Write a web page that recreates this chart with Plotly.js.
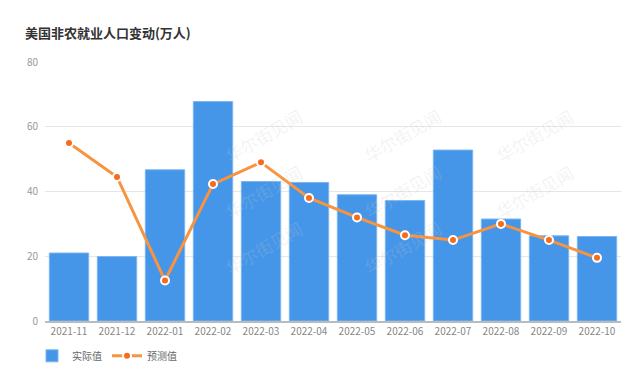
<!DOCTYPE html>
<html><head><meta charset="utf-8">
<script src="https://cdn.plot.ly/plotly-3.0.1.min.js"></script>
<style>html,body{margin:0;padding:0;background:#fff}#chart{width:640px;height:369px}</style>
</head><body><div id="chart"></div>
<script>
const categories = ["2021-11","2021-12","2022-01","2022-02","2022-03","2022-04","2022-05","2022-06","2022-07","2022-08","2022-09","2022-10"];
const actualValues = [21.0, 19.9, 46.7, 67.8, 43.1, 42.8, 39.0, 37.2, 52.8, 31.5, 26.3, 26.1];
const forecastValues = [55.0, 44.5, 12.5, 42.3, 49.0, 38.0, 32.0, 26.5, 25.0, 30.0, 25.0, 19.5];
const yTicks = [0, 20, 40, 60, 80];
const seriesNames = ["实际值", "预测值"];
const titleText = "美国非农就业人口变动(万人)";
const watermarkText = "华尔街见闻";

const font = '"Noto Sans CJK SC", "Noto Sans", sans-serif';
const traces = [
  {type:"bar", x:categories, y:actualValues, name:seriesNames[0],
   marker:{color:"#4596e8", line:{color:"#7ab6f0", width:1}}, width:0.82, hoverinfo:"y"},
  {type:"scatter", mode:"lines+markers", x:categories, y:forecastValues, name:seriesNames[1],
   line:{color:"#f8943f", width:3},
   marker:{color:"#f76b1c", size:8, line:{color:"#ffffff", width:2}}}
];
const wm = [];
const wmPos = [[0.3,0.85],[0.62,0.85],[0.93,0.85],[0.3,0.5],[0.62,0.5],[0.93,0.5],[0.3,0.15],[0.62,0.15]];
for (const p of wmPos) {
  wm.push({xref:"paper", yref:"paper", x:p[0], y:p[1], text:watermarkText, showarrow:false,
    textangle:-30, font:{family:font, size:17, color:"rgba(200,200,200,0.22)"}});
}
const layout = {
  width:640, height:369,
  margin:{l:45, r:19, t:62, b:48, autoexpand:false},
  paper_bgcolor:"#fff", plot_bgcolor:"#fff",
  font:{family:font, color:"#888"},
  title:{text:"<b>"+titleText+"</b>", x:0.039, xanchor:"left", y:0.91, yanchor:"middle",
    font:{family:font, size:13, color:"#333"}},
  bargap:0.18,
  xaxis:{type:"category", range:[-0.5, categories.length-0.5], autorange:false, automargin:false, showgrid:false, showline:true, linecolor:"#bbb", linewidth:2,
    ticks:"", tickfont:{size:10, color:"#888"}, fixedrange:true},
  yaxis:{range:[0,80], automargin:false, tickvals:yTicks, showgrid:true, gridcolor:"#e6e6e6", gridwidth:1,
    zeroline:false, showline:false, ticks:"", ticklen:0, tickfont:{size:10, color:"#999"},
    ticklabelstandoff:6},
  showlegend:true,
  legend:{orientation:"h", xref:"container", yref:"container", x:0.05, xanchor:"left", y:0.075, yanchor:"top",
    font:{size:10, color:"#666"}, itemwidth:30, tracegroupgap:0},
  annotations: wm
};
Plotly.newPlot("chart", traces, layout, {displayModeBar:false, staticPlot:true});
</script></body></html>
